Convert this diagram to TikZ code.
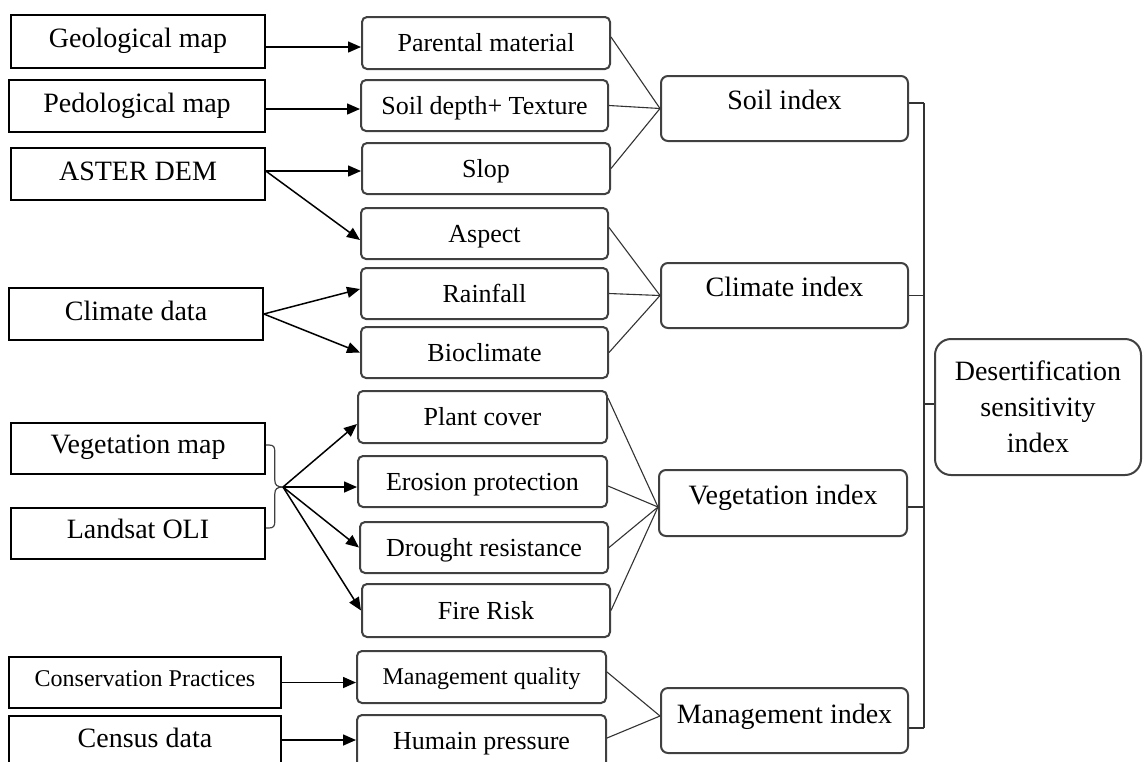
\documentclass[tikz,border=0pt]{standalone}
\usepackage{fontspec}
\setmainfont{Liberation Serif}
\usetikzlibrary{arrows.meta,calc}
\begin{document}
\begin{tikzpicture}[x=0.5pt,y=-0.5pt,
  basebox/.style={inner sep=0pt, align=center, font=\fontsize{14}{17}\selectfont},
  src/.style={basebox, draw=black, line width=0.8pt, text height=9.9pt, text depth=3.5pt},
  mid/.style={basebox, draw=black!75, line width=1pt, rounded corners=2.5pt,
    font=\fontsize{13}{16}\selectfont, text height=11.6pt, text depth=3pt},
  idx/.style={basebox, draw=black!75, line width=1pt, rounded corners=3.5pt,
    text height=6.3pt, text depth=5pt},
  small/.style={font=\fontsize{12}{15}\selectfont},
  arr/.style={-{Triangle[length=6.5pt,width=5.5pt]}, line width=0.75pt, draw=black},
  link/.style={line width=0.55pt, draw=black!80},
  bracepath/.style={line width=0.6pt, draw=black!75}
]
\useasboundingbox (0,0) rectangle (1144,761);
\fill[white] (0,0) rectangle (1144,761);

% source column
\node[src, minimum width=127pt, minimum height=26.5pt] (geo) at (138,41.5) {Geological map};
\node[src, minimum width=128pt, minimum height=26pt] (ped) at (137,106) {Pedological map};
\node[src, minimum width=127pt, minimum height=26pt] (aster) at (138,174) {ASTER DEM};
\node[src, minimum width=127pt, minimum height=26pt] (clim) at (136,314) {Climate data};
\node[src, minimum width=127pt, minimum height=25.5pt, text height=8.9pt] (vm) at (138,448.5) {Vegetation map};
\node[src, minimum width=127pt, minimum height=25.5pt, text height=8.9pt] (lo) at (138,533.5) {Landsat OLI};
\node[src, small, minimum width=136pt, minimum height=25.5pt, text height=7pt, text depth=3pt] (cp) at (145,682.5) {Conservation Practices};
\node[src, minimum width=136pt, minimum height=25.5pt] (cd) at (145,741.5) {Census data};

% middle column
\node[mid, minimum width=124pt, minimum height=26pt] (pm) at (486,43) {Parental material};
\node[mid, minimum width=123.5pt, minimum height=25.5pt] (sdt) at (484.5,105.5) {Soil depth+ Texture};
\node[mid, minimum width=124pt, minimum height=25.5pt] (slop) at (486,168.5) {Slop};
\node[mid, minimum width=123.5pt, minimum height=25.5pt] (asp) at (484.5,233.5) {Aspect};
\node[mid, minimum width=123.5pt, minimum height=25.5pt] (rain) at (484.5,293.5) {Rainfall};
\node[mid, minimum width=123.5pt, minimum height=25.5pt] (bio) at (484.5,352.5) {Bioclimate};
\node[mid, minimum width=124.5pt, minimum height=26pt] (pc) at (482.5,417) {Plant cover};
\node[mid, minimum width=124.5pt, minimum height=25.5pt] (ep) at (482.5,481.5) {Erosion protection};
\node[mid, minimum width=124pt, minimum height=25.5pt] (dr) at (484,547.5) {Drought resistance};
\node[mid, minimum width=124pt, minimum height=26.5pt] (fr) at (486,610.5) {Fire Risk};
\node[mid, small, minimum width=124.5pt, minimum height=26pt, text height=10pt, text depth=3pt] (mq) at (481.5,677) {Management quality};
\node[mid, minimum width=124.5pt, minimum height=26pt] (hp) at (481.5,741) {Humain pressure};

% index column
\node[idx, minimum width=123.5pt, minimum height=32.5pt] (si) at (784.5,108.5) {Soil index};
\node[idx, minimum width=123.5pt, minimum height=32.5pt] (ci) at (784.5,295.5) {Climate index};
\node[idx, minimum width=124pt, minimum height=33pt] (vi) at (783,503) {Vegetation index};
\node[idx, minimum width=123.5pt, minimum height=32.5pt, text height=7.5pt, text depth=4.5pt] (mi) at (784.5,720.5) {Management index};

\node[basebox, draw=black!75, line width=1pt, rounded corners=8pt, minimum width=103pt, minimum height=68pt,
  font=\fontsize{14}{18}\selectfont] (dsi) at (1038,407)
  {Desertification\\sensitivity\\index};

% arrows from sources
\draw[arr] ([yshift=-2.75pt]geo.east) -- ([yshift=-2.75pt]geo.east -| pm.west);
\draw[arr] ([yshift=-1.5pt]ped.east) -- ([yshift=-1.5pt]ped.east -| sdt.west);
\draw[arr] ([yshift=1.5pt]aster.east) -- ([yshift=1.5pt]aster.east -| slop.west);
\draw[arr] ([yshift=1.5pt]aster.east) -- ([yshift=-3.25pt]asp.west);
\draw[arr] (clim.east) -- ([yshift=2.25pt]rain.west);
\draw[arr] (clim.east) -- (bio.west);

% brace joining vegetation map and Landsat OLI
\coordinate (j) at (283,487);
\draw[bracepath] ([yshift=1.75pt]vm.east) -- ++(3,0)
  .. controls +(5,0) and +(0,-5) .. ++(6,7) -- ++(0,28)
  .. controls +(0,5) and +(-6,0) .. (j);
\draw[bracepath] ([yshift=2.75pt]lo.east) -- ++(3,0)
  .. controls +(5,0) and +(0,5) .. ++(6,-7) -- ++(0,-27)
  .. controls +(0,-5) and +(-6,0) .. (j);
\draw[arr] (j) -- ([yshift=-3.5pt]pc.west);
\draw[arr] (j) -- (j -| ep.west);
\draw[arr] (j) -- (dr.west);
\draw[arr] (j) -- (fr.west);

\draw[arr] (cp.east) -- (cp.east -| mq.west);
\draw[arr] ([yshift=0.75pt]cd.east) -- ([yshift=0.75pt]cd.east -| hp.west);

% links to indices
\draw[link] ([yshift=3pt]pm.east) -- (si.west);
\draw[link] (sdt.east) -- (si.west);
\draw[link] (slop.east) -- (si.west);
\draw[link] ([yshift=3pt]asp.east) -- (ci.west);
\draw[link] (rain.east) -- (ci.west);
\draw[link] (bio.east) -- (ci.west);
\draw[link] ([yshift=9.5pt]pc.east) -- ([yshift=-2pt]vi.west);
\draw[link] ([yshift=-2.25pt]ep.east) -- ([yshift=-2pt]vi.west);
\draw[link] (dr.east) -- ([yshift=-2pt]vi.west);
\draw[link] (fr.east) -- ([yshift=-2pt]vi.west);
\draw[link] ([yshift=2.5pt]mq.east) -- ([yshift=2.25pt]mi.west);
\draw[link] ([yshift=1.5pt]hp.east) -- ([yshift=2.25pt]mi.west);

% bus to desertification index
\draw[link] ([yshift=2.75pt]si.east) -- ++(15,0) coordinate (b1);
\draw[link] (ci.east) -- (ci.east -| b1);
\draw[link] ([yshift=-2pt]vi.east) -- ([yshift=-2pt]vi.east -| b1);
\draw[link] ([yshift=-3.75pt]mi.east) -- ([yshift=-3.75pt]mi.east -| b1) coordinate (b4);
\draw[link] (b1) -- (b4);
\draw[link] ([yshift=1.5pt]dsi.west) -- ([yshift=1.5pt]dsi.west -| b1);
\end{tikzpicture}
\end{document}
